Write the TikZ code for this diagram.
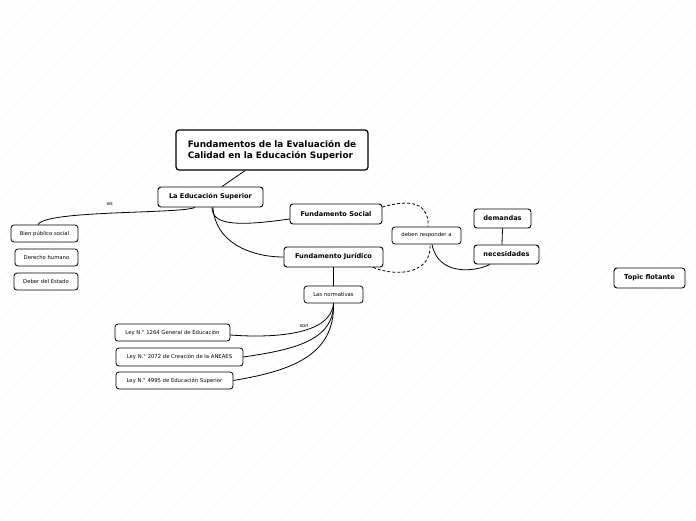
\documentclass[tikz,border=0pt]{standalone}
\usepackage{fontspec}
\setmainfont{DejaVu Sans}
\begin{document}
\begin{tikzpicture}[x=1pt,y=-1pt,
  topic/.style={draw, rounded corners=3pt, line width=0.9pt, fill=white, inner sep=0pt, align=center, font=\bfseries\fontsize{6.6}{8}\selectfont},
  maintopic/.style={topic, line width=1.2pt, align=left, font=\bfseries\fontsize{8.9}{10.8}\selectfont},
  sub/.style={draw, rounded corners=3pt, line width=0.8pt, fill=white, inner sep=0pt, align=center, font=\fontsize{5.3}{6}\selectfont},
  conn/.style={line width=0.8pt, black},
  dconn/.style={conn, dash pattern=on 3pt off 2pt},
  lbl/.style={font=\fontsize{5}{6}\selectfont, inner sep=0pt}]
\useasboundingbox (0,0) rectangle (696,520);
\fill[white] (0,0) rectangle (696,520);
\begin{scope}
\clip (0,0) rectangle (696,520);
\foreach \i in {0,10,...,1220} \draw[black!4, line width=0.3pt] (\i,0) -- (\i-520,520);
\end{scope}

\node[maintopic, minimum width=192pt, minimum height=40pt] (main) at (272,150) {Fundamentos de la Evaluación de\\Calidad en la Educación Superior};
\node[topic, minimum width=105pt, minimum height=20pt] (les) at (210.5,197) {La Educación Superior};
\node[sub, minimum width=67pt, minimum height=17pt] (bps) at (44.5,233.5) {Bien público social};
\node[sub, minimum width=63pt, minimum height=17pt] (dh) at (46.5,257.5) {Derecho humano};
\node[sub, minimum width=64pt, minimum height=17pt] (de) at (46,281.5) {Deber del Estado};
\node[topic, minimum width=92pt, minimum height=20pt] (fs) at (336,214) {Fundamento Social};
\node[topic, minimum width=99pt, minimum height=20pt] (fj) at (333.5,257) {Fundamento Jurídico};
\node[sub, minimum width=69pt, minimum height=17pt] (dra) at (426.5,235.5) {deben responder a};
\node[topic, minimum width=57pt, minimum height=19pt] (dem) at (502.5,218.5) {demandas};
\node[topic, minimum width=65pt, minimum height=19pt] (nec) at (506.5,254.5) {necesidades};
\node[sub, minimum width=59pt, minimum height=17pt] (norm) at (333.5,294.5) {Las normativas};
\node[sub, minimum width=115pt, minimum height=17pt] (ley1) at (172.5,332.5) {Ley N.° 1264 General de Educación};
\node[sub, minimum width=127pt, minimum height=18pt] (ley2) at (179.5,357) {Ley N.° 2072 de Creación de la ANEAES};
\node[sub, minimum width=117pt, minimum height=17pt] (ley3) at (174.5,380.5) {Ley N.° 4995 de Educación Superior};
\node[topic, minimum width=71pt, minimum height=20pt] (tf) at (649.5,278) {Topic flotante};

\draw[conn] ([xshift=-27pt]main.south) -- ([xshift=11.5pt]les.north);
\draw[conn] ([xshift=-15.5pt]les.south) .. controls (180,214) and (45,210) .. ([xshift=-6.5pt]bps.north);
\draw[conn] ([xshift=1.5pt]les.south) .. controls (212,226) and (240,226) .. ([yshift=-5pt]fs.west);
\draw[conn] ([xshift=2.5pt]les.south) .. controls (215,242) and (250,257) .. (fj.west);
\draw[dconn] ([yshift=7pt]fs.east) .. controls (420,196) and (429,210) .. ([xshift=1.5pt]dra.north);
\draw[dconn] ([xshift=39.5pt]fj.south) .. controls (400,278) and (432,272) .. ([xshift=3.5pt]dra.south);
\draw[conn] ([xshift=5.5pt]dra.south) .. controls (438,276) and (475,272) .. ([xshift=-16.5pt]nec.south);
\draw[conn] (dem.south) -- ([xshift=-4.5pt]nec.north);
\draw[conn] (fj.south) -- (norm.north);
\draw[conn] (norm.south) .. controls (331,336) and (270,338) .. ([yshift=-2.5pt]ley1.east);
\draw[conn] (norm.south) .. controls (334,342) and (290,350) .. (ley2.east);
\draw[conn] (norm.south) .. controls (335,356) and (290,371) .. (ley3.east);
\node[lbl] (es) at (110,204) {es};
\node[lbl] (son) at (304,326) {son};
\end{tikzpicture}
\end{document}
